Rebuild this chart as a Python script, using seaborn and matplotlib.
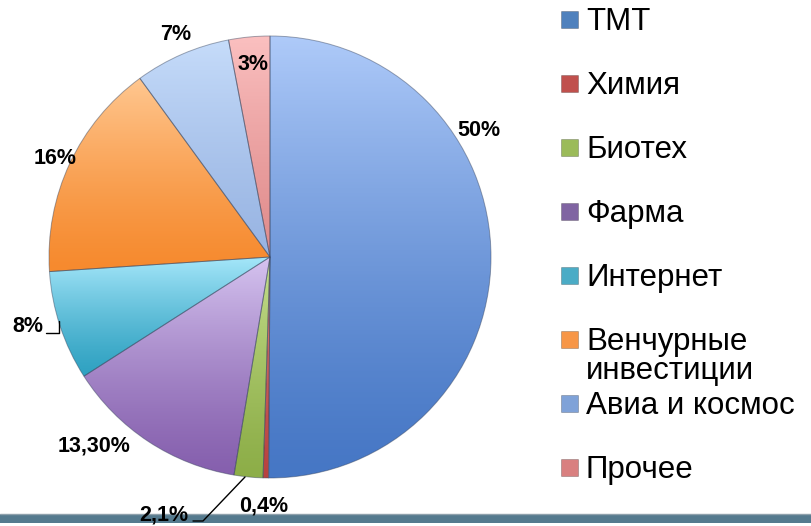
import numpy as np
import seaborn as sns
import matplotlib
matplotlib.use("Agg")
import matplotlib.pyplot as plt
from matplotlib.colors import LinearSegmentedColormap
from matplotlib.patches import Rectangle

# data
sectors = ["ТМТ", "Химия", "Биотех", "Фарма", "Интернет",
           "Венчурные\nинвестиции", "Авиа и космос", "Прочее"]
shares = [50, 0.4, 2.1, 13.3, 8, 16, 7, 3]
share_labels = ["50%", "0,4%", "2,1%", "13,30%", "8%", "16%", "7%", "3%"]

# style
base_colors = ["#4F81BD", "#C0504D", "#9BBB59", "#8064A2", "#4BACC6",
               "#F79646", "#7FA2D8", "#D98080"]
grad_top = ["#AECAF9", "#E08A87", "#C6DF8E", "#D6C4F0", "#A6E7FA",
            "#FFC790", "#C6DCFA", "#FBC0C0"]
grad_bot = ["#4677C5", "#B8423F", "#8DAE48", "#8660AE", "#30A2C2",
            "#F68A2E", "#99B5E3", "#E08D8D"]
# label text centres, in pixels from top-left (Excel "best fit" placement)
label_pos = [(479, 131), (264, 506), (164, 515), (94, 446),
             (28, 327), (55, 158), (176, 35), (253, 64)]

W, H = 812, 526
sns.set_theme(style="white")
plt.rcParams["font.family"] = ["Liberation Sans", "DejaVu Sans"]

fig = plt.figure(figsize=(W / 100, H / 100), dpi=100)
ax = fig.add_axes([0, 0, 1, 1])

cx, cy, r = 270, H - 257, 221
wedges, _ = ax.pie(shares, startangle=90, counterclock=False,
                   center=(cx, cy), radius=r, frame=True,
                   wedgeprops=dict(edgecolor=(0.2, 0.25, 0.35, 0.45), linewidth=0.7))
grad = np.linspace(0, 1, 256) ** 1.3
grad = grad.reshape(-1, 1)
for w, ct, cb in zip(wedges, grad_top, grad_bot):
    bb = w.get_path().get_extents()
    cmap = LinearSegmentedColormap.from_list("g", [cb, ct])
    im = ax.imshow(grad, cmap=cmap, origin="lower", aspect="auto",
                   extent=[bb.x0, bb.x1, bb.y0, bb.y1], zorder=1.5)
    im.set_clip_path(w)
    w.set_facecolor("none")
    w.set_zorder(2)
ax.set_xlim(0, W)
ax.set_ylim(0, H)
ax.axis("off")

# bottom band
ax.axhspan(H - 523, H - 514, color="#557A8E", zorder=2.5, lw=0)
ax.axhline(H - 514, color="#8FA1AC", lw=1, zorder=2.6)

# data labels
for txt, (px, py) in zip(share_labels, label_pos):
    ax.text(px, H - py, txt, ha="center", va="center", fontsize=15.5,
            fontweight="bold", color="black", zorder=4)

# leader lines
ax.plot([193, 203, 245], [H - 521, H - 521, H - 477], color="black", lw=1, zorder=4)
ax.plot([46, 59, 59], [H - 333, H - 333, H - 321], color="black", lw=1, zorder=4)

# legend
for i, (name, col) in enumerate(zip(sectors, base_colors)):
    yc = 19 + 64.1 * i
    ax.add_patch(Rectangle((561, H - yc - 8.5), 17, 17, facecolor=col,
                           edgecolor=(0, 0, 0, 0.25), lw=0.6, zorder=4))
    ax.text(586, H - yc + 12.5, name, ha="left", va="top", fontsize=22.5,
            linespacing=0.95, color="black", zorder=4)

fig.savefig("out.png", dpi=100)
